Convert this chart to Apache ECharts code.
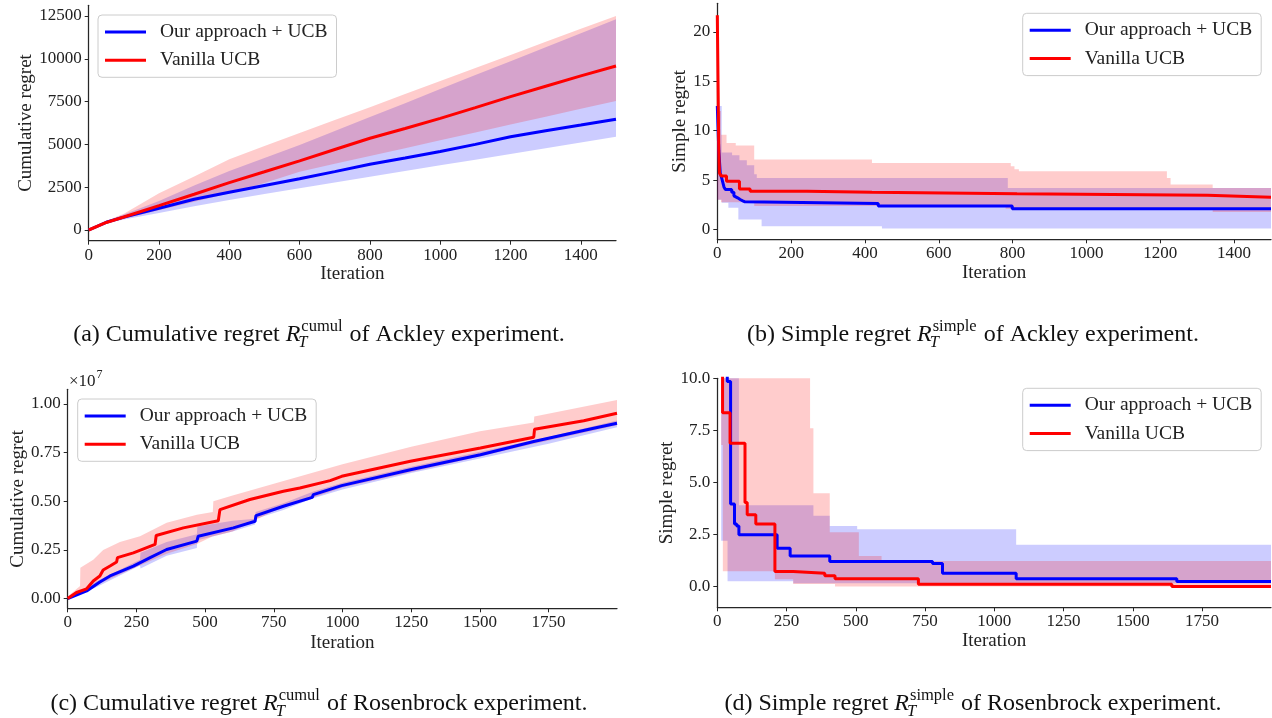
<!DOCTYPE html>
<html><head><meta charset="utf-8">
<script src="https://cdn.jsdelivr.net/npm/echarts@6/dist/echarts.min.js"></script>
<style>html,body{margin:0;padding:0;background:#fff}#chart{width:1272px;height:718px}</style>
</head><body><div id="chart"></div>
<script>
// ---------------- DATA ----------------
const SERIES_NAMES = ['Our approach + UCB', 'Vanilla UCB'];

// (a) Ackley, cumulative regret
const aIter    = [0, 50, 100, 200, 300, 400, 500, 600, 700, 800, 900, 1000, 1100, 1200, 1300, 1400, 1500];
const aOurs    = [0, 450, 750, 1270, 1800, 2200, 2600, 2990, 3410, 3840, 4200, 4580, 5000, 5450, 5800, 6130, 6470];
const aVanilla = [0, 440, 760, 1420, 2090, 2770, 3400, 4040, 4700, 5360, 5930, 6520, 7150, 7790, 8400, 9000, 9580];
const aOursLo  = [0, 400, 620, 990, 1380, 1750, 2100, 2436, 2770, 3110, 3440, 3780, 4110, 4440, 4780, 5110, 5450];
const aOursHi  = [0, 520, 900, 1700, 2600, 3450, 4200, 4965, 5780, 6600, 7400, 8230, 9050, 9860, 10680, 11490, 12310];
const aVanLo   = [0, 400, 660, 1150, 1650, 2150, 2750, 3406, 3870, 4320, 4780, 5240, 5700, 6160, 6620, 7080, 7535];
const aVanHi   = [0, 520, 950, 2140, 3130, 4130, 4900, 5660, 6430, 7170, 7940, 8700, 9460, 10220, 10990, 11760, 12500];
const aXTicks = [0, 200, 400, 600, 800, 1000, 1200, 1400];
const aYTicks = [0, 2500, 5000, 7500, 10000, 12500];

// (b) Ackley, simple regret (step curves: value holds from its iteration to the next)
const bOursIter = [0, 4, 8, 13, 18, 22, 39, 45, 50, 55, 62, 69, 75, 436, 799, 1500];
const bOurs     = [12.5, 8.0, 5.7, 5.05, 4.3, 4.04, 3.77, 3.4, 3.2, 3.03, 2.9, 2.8, 2.63, 2.36, 2.09, 2.09];
const bVanIter  = [0, 4, 6, 11, 25, 60, 89, 243, 419, 812, 1328, 1500];
const bVanilla  = [21.7, 8.0, 5.7, 5.4, 4.88, 4.1, 3.87, 3.77, 3.62, 3.45, 3.26, 3.26];
const bOursBandIter = [0, 12, 30, 40, 57, 60, 80, 100, 107, 120, 446, 787, 1500];
const bOursHi       = [12.5, 7.8, 7.8, 7.5, 7.5, 7.0, 6.5, 5.6, 5.2, 5.2, 5.2, 4.2, 4.2];
const bOursLo       = [3.0, 2.7, 2.2, 2.2, 1.0, 1.0, 1.0, 1.0, 1.0, 0.33, 0.1, 0.1, 0.1];
const bVanBandIter  = [0, 5, 10, 25, 50, 89, 100, 419, 781, 795, 805, 817, 1210, 1218, 1228, 1342, 1500];
const bVanHi        = [21.7, 12, 9.6, 8.75, 8.5, 8.5, 7.07, 6.73, 6.73, 6.4, 6.1, 5.9, 5.9, 5.2, 4.55, 4.2, 4.2];
const bVanLo        = [3.0, 3.0, 2.76, 2.76, 2.76, 2.76, 2.36, 2.36, 2.1, 2.1, 2.1, 2.1, 2.1, 2.1, 2.1, 1.77, 1.77];
const bXTicks = [0, 200, 400, 600, 800, 1000, 1200, 1400];
const bYTicks = [0, 5, 10, 15, 20];

// (c) Rosenbrock, cumulative regret (units of 1e7)
const cOursIter = [0, 69, 117, 154, 239, 300, 360, 470, 475, 603, 682, 685, 785, 890, 894, 997, 1247, 1502, 1696, 1914, 1999];
const cOurs     = [0, 0.039, 0.085, 0.116, 0.167, 0.21, 0.252, 0.295, 0.32, 0.363, 0.397, 0.426, 0.474, 0.52, 0.534, 0.58, 0.662, 0.739, 0.807, 0.875, 0.901];
const cVanIter  = [0, 32, 69, 93, 117, 129, 154, 178, 181, 239, 318, 322, 421, 548, 554, 663, 785, 845, 955, 997, 1247, 1502, 1696, 1699, 1878, 1999];
const cVanilla  = [0, 0.031, 0.05, 0.09, 0.116, 0.147, 0.167, 0.188, 0.21, 0.235, 0.278, 0.324, 0.363, 0.40, 0.457, 0.509, 0.551, 0.568, 0.606, 0.628, 0.705, 0.773, 0.829, 0.870, 0.913, 0.952];
const cOursBandIter = [0, 100, 263, 265, 360, 470, 472, 600, 682, 684, 785, 894, 1000, 1250, 1500, 1750, 1999];
const cOursHi       = [0, 0.085, 0.20, 0.235, 0.29, 0.33, 0.37, 0.40, 0.41, 0.445, 0.49, 0.55, 0.595, 0.677, 0.754, 0.83, 0.915];
const cOursLo       = [0, 0.055, 0.17, 0.155, 0.22, 0.26, 0.30, 0.345, 0.38, 0.41, 0.455, 0.515, 0.56, 0.645, 0.72, 0.795, 0.88];
const cVanBandIter  = [0, 45, 46, 93, 129, 190, 263, 360, 470, 528, 530, 600, 750, 1000, 1250, 1500, 1696, 1698, 1999];
const cVanHi        = [0.01, 0.065, 0.158, 0.2, 0.25, 0.29, 0.32, 0.39, 0.43, 0.445, 0.50, 0.53, 0.59, 0.69, 0.78, 0.86, 0.905, 0.935, 1.02];
const cVanLo        = [0, 0.03, 0.03, 0.06, 0.085, 0.125, 0.17, 0.23, 0.28, 0.32, 0.32, 0.345, 0.45, 0.57, 0.65, 0.73, 0.795, 0.795, 0.89];
const cXTicks = [0, 250, 500, 750, 1000, 1250, 1500, 1750];
const cYTicks = [0, 0.25, 0.5, 0.75, 1.0];

// (d) Rosenbrock, simple regret (step curves)
const dOursIter = [0, 36, 48, 62, 70, 78, 216, 263, 406, 777, 813, 1079, 1659, 1999];
const dOurs     = [15, 9.85, 3.96, 3.0, 2.9, 2.48, 1.84, 1.47, 1.2, 1.1, 0.64, 0.37, 0.24, 0.24];
const dVanIter  = [0, 19, 46, 100, 108, 139, 208, 274, 388, 425, 726, 1641, 1999];
const dVanilla  = [15, 8.35, 6.88, 4.03, 3.44, 3.0, 0.72, 0.64, 0.51, 0.37, 0.11, 0.0, 0.0];
const dOursBandIter = [0, 14, 37, 78, 274, 335, 347, 406, 505, 1079, 1999];
const dOursHi       = [12, 12, 12, 3.9, 3.9, 3.9, 3.4, 2.9, 2.75, 2.0, 2.0];
const dOursLo       = [12, 2.2, 0.25, 0.25, 0.15, 0.15, 0.15, 0.15, 0.15, 0.15, 0.15];
const dVanBandIter  = [0, 14, 20, 208, 274, 335, 347, 406, 425, 511, 593, 1999];
const dVanHi        = [12, 12, 12, 12, 12, 7.6, 4.48, 2.6, 2.6, 1.47, 1.23, 1.23];
const dVanLo        = [12, 6.8, 0.73, 0.35, 0.12, 0.12, 0.12, 0.12, 0.0, 0.0, 0.0, 0.0];
const dXTicks = [0, 250, 500, 750, 1000, 1250, 1500, 1750];
const dYTicks = [0, 2.5, 5.0, 7.5, 10.0];

// ---------------- STYLE / LAYOUT ----------------
const FONT = 'Liberation Serif';
const TXT = '#222222';
const AX = '#262626';
const BLUE = '#0000ff', RED = '#ff0000';
const BLUE_F = 'rgba(0,0,255,0.2)', RED_F = 'rgba(255,0,0,0.2)';

const grids = [
  {left: 88.7, top: 5.3, width: 527.3, height: 235.4},
  {left: 717.3, top: 3.3, width: 553.7, height: 236},
  {left: 67.7, top: 389.3, width: 549.3, height: 219},
  {left: 717.3, top: 378.3, width: 553.7, height: 229}
].map(g => Object.assign({containLabel: false, outerBoundsMode: 'none'}, g));

function xAxisCfg(idx, max, ticks, nameGap) {
  return {
    type: 'value', gridIndex: idx, min: 0, max: max,
    name: 'Iteration', nameLocation: 'middle', nameGap: nameGap,
    nameTextStyle: {fontFamily: FONT, fontSize: 19, color: TXT},
    axisLine: {show: true, onZero: false, lineStyle: {color: AX, width: 1.25}},
    axisTick: {show: true, inside: false, length: 4, customValues: ticks, lineStyle: {color: AX, width: 1}},
    axisLabel: {customValues: ticks, margin: 6, fontFamily: FONT, fontSize: 17, color: TXT,
                formatter: v => String(Math.round(v))},
    splitLine: {show: false}
  };
}
function yAxisCfg(idx, min, max, ticks, name, nameGap, fmt) {
  return {
    type: 'value', gridIndex: idx, min: min, max: max,
    name: name, nameLocation: 'middle', nameGap: nameGap,
    nameTextStyle: {fontFamily: FONT, fontSize: 19, color: TXT},
    axisLine: {show: true, onZero: false, lineStyle: {color: AX, width: 1.25}},
    axisTick: {show: true, inside: false, length: 4, customValues: ticks, lineStyle: {color: AX, width: 1}},
    axisLabel: {customValues: ticks, margin: 7, fontFamily: FONT, fontSize: 17, color: TXT, formatter: fmt},
    splitLine: {show: false}
  };
}

function pairs(xs, ys) { return xs.map((x, i) => [x, ys[i]]); }

// Shaded band between lower and upper curves, drawn as one polygon through the axis scales (api.coord)
function band(idx, xs, lo, hi, color, step) {
  const data = xs.map((x, i) => [x, lo[i], hi[i]]);
  return {
    type: 'custom', xAxisIndex: idx, yAxisIndex: idx, silent: true, z: 2, data: data,
    encode: {x: 0, y: [1, 2]},
    renderItem: function (params, api) {
      if (params.dataIndex !== 0) return null;
      const upper = [], lower = [];
      for (let i = 0; i < data.length; i++) {
        if (step && i > 0) {
          upper.push(api.coord([data[i][0], data[i - 1][2]]));
          lower.push(api.coord([data[i][0], data[i - 1][1]]));
        }
        upper.push(api.coord([data[i][0], data[i][2]]));
        lower.push(api.coord([data[i][0], data[i][1]]));
      }
      const pts = upper.concat(lower.reverse());
      const cs = params.coordSys;
      const clipped = echarts.graphic.clipPointsByRect(pts, {x: cs.x, y: cs.y, width: cs.width, height: cs.height});
      return {type: 'polygon', shape: {points: clipped}, style: {fill: color, stroke: null}};
    }
  };
}
function line(idx, name, xs, ys, color, step) {
  return {type: 'line', name: name, xAxisIndex: idx, yAxisIndex: idx, data: pairs(xs, ys),
          symbol: 'none', step: step, z: 3, clip: true, silent: true,
          lineStyle: {color: color, width: 3}, itemStyle: {color: color}};
}
function legendCfg(left, top) {
  return {
    left: left, top: top, orient: 'vertical', data: SERIES_NAMES,
    icon: 'rect', itemWidth: 41, itemHeight: 3, itemGap: 6.3,
    padding: [6, 9, 6, 7], selectedMode: false,
    backgroundColor: 'rgba(255,255,255,0.8)', borderColor: '#cccccc', borderWidth: 1, borderRadius: 4,
    textStyle: {fontFamily: FONT, fontSize: 19.5, color: TXT, lineHeight: 22, padding: [0, 0, 0, 9]}
  };
}

const series = [
  band(0, aIter, aOursLo, aOursHi, BLUE_F, false),
  band(0, aIter, aVanLo, aVanHi, RED_F, false),
  line(0, SERIES_NAMES[0], aIter, aOurs, BLUE, false),
  line(0, SERIES_NAMES[1], aIter, aVanilla, RED, false),
  band(1, bOursBandIter, bOursLo, bOursHi, BLUE_F, true),
  band(1, bVanBandIter, bVanLo, bVanHi, RED_F, true),
  line(1, SERIES_NAMES[0], bOursIter, bOurs, BLUE, 'end'),
  line(1, SERIES_NAMES[1], bVanIter, bVanilla, RED, 'end'),
  band(2, cOursBandIter, cOursLo, cOursHi, BLUE_F, false),
  band(2, cVanBandIter, cVanLo, cVanHi, RED_F, false),
  line(2, SERIES_NAMES[0], cOursIter, cOurs, BLUE, false),
  line(2, SERIES_NAMES[1], cVanIter, cVanilla, RED, false),
  band(3, dOursBandIter, dOursLo, dOursHi, BLUE_F, true),
  band(3, dVanBandIter, dVanLo, dVanHi, RED_F, true),
  line(3, SERIES_NAMES[0], dOursIter, dOurs, BLUE, 'end'),
  line(3, SERIES_NAMES[1], dVanIter, dVanilla, RED, 'end')
];

// ---------------- CAPTIONS (measured text layout) ----------------
const mctx = document.createElement('canvas').getContext('2d');
function tw(font, s) { mctx.font = font; return mctx.measureText(s).width; }
function caption(cx, cy, pre, sup, post) {
  const F = 24, S = 16.5;
  const fN = F + 'px "' + FONT + '"', fI = 'italic ' + F + 'px "' + FONT + '"';
  const fS = S + 'px "' + FONT + '"', fSI = 'italic ' + S + 'px "' + FONT + '"';
  const w1 = tw(fN, pre), wR = tw(fI, 'R'), wT = tw(fSI, 'T'), wS = tw(fS, sup), w2 = tw(fN, post);
  const wScript = Math.max(wT, wS + 1);
  const total = w1 + wR + 1 + wScript + w2;
  const x0 = cx - total / 2;
  const mk = (x, y, text, font) => ({type: 'text', x: x, y: y, silent: true,
    style: {text: text, font: font, fill: '#111', align: 'left', verticalAlign: 'middle'}});
  return [
    mk(x0, cy, pre, fN),
    mk(x0 + w1, cy, 'R', fI),
    mk(x0 + w1 + wR - 2, cy + 8, 'T', fSI),
    mk(x0 + w1 + wR + 1, cy - 8, sup, fS),
    mk(x0 + w1 + wR + 1 + wScript, cy, post, fN)
  ];
}
const graphics = [].concat(
  caption(319, 335, '(a) Cumulative regret ', 'cumul', ' of Ackley experiment.'),
  caption(973, 335, '(b) Simple regret ', 'simple', ' of Ackley experiment.'),
  caption(319, 704, '(c) Cumulative regret ', 'cumul', ' of Rosenbrock experiment.'),
  caption(973, 704, '(d) Simple regret ', 'simple', ' of Rosenbrock experiment.'),
  [
    {type: 'text', x: 69, y: 382, silent: true,
     style: {text: '×10', font: '17px "' + FONT + '"', fill: TXT, align: 'left', verticalAlign: 'middle'}},
    {type: 'text', x: 69 + tw('17px "' + FONT + '"', '×10') + 1, y: 375, silent: true,
     style: {text: '7', font: '12px "' + FONT + '"', fill: TXT, align: 'left', verticalAlign: 'middle'}}
  ]
);

const option = {
  animation: false,
  backgroundColor: '#ffffff',
  grid: grids,
  xAxis: [
    xAxisCfg(0, 1500, aXTicks, 23),
    xAxisCfg(1, 1500, bXTicks, 23),
    xAxisCfg(2, 1999, cXTicks, 25),
    xAxisCfg(3, 1999, dXTicks, 23)
  ],
  yAxis: [
    yAxisCfg(0, -625, 13125, aYTicks, 'Cumulative regret', 49.5, v => String(Math.round(v))),
    yAxisCfg(1, -1.0, 22.9, bYTicks, 'Simple regret', 23.5, v => String(Math.round(v))),
    yAxisCfg(2, -0.05, 1.075, cYTicks, 'Cumulative regret', 39, v => v.toFixed(2)),
    yAxisCfg(3, -1, 10, dYTicks, 'Simple regret', 37.5, v => v.toFixed(1))
  ],
  legend: [
    legendCfg(98, 15),
    legendCfg(1022.7, 13.3),
    legendCfg(77.7, 399),
    legendCfg(1022.7, 388.3)
  ],
  series: series,
  graphic: graphics
};

const chart = echarts.init(document.getElementById('chart'), null, {renderer: 'canvas', width: 1272, height: 718});
chart.setOption(option);
</script></body></html>
